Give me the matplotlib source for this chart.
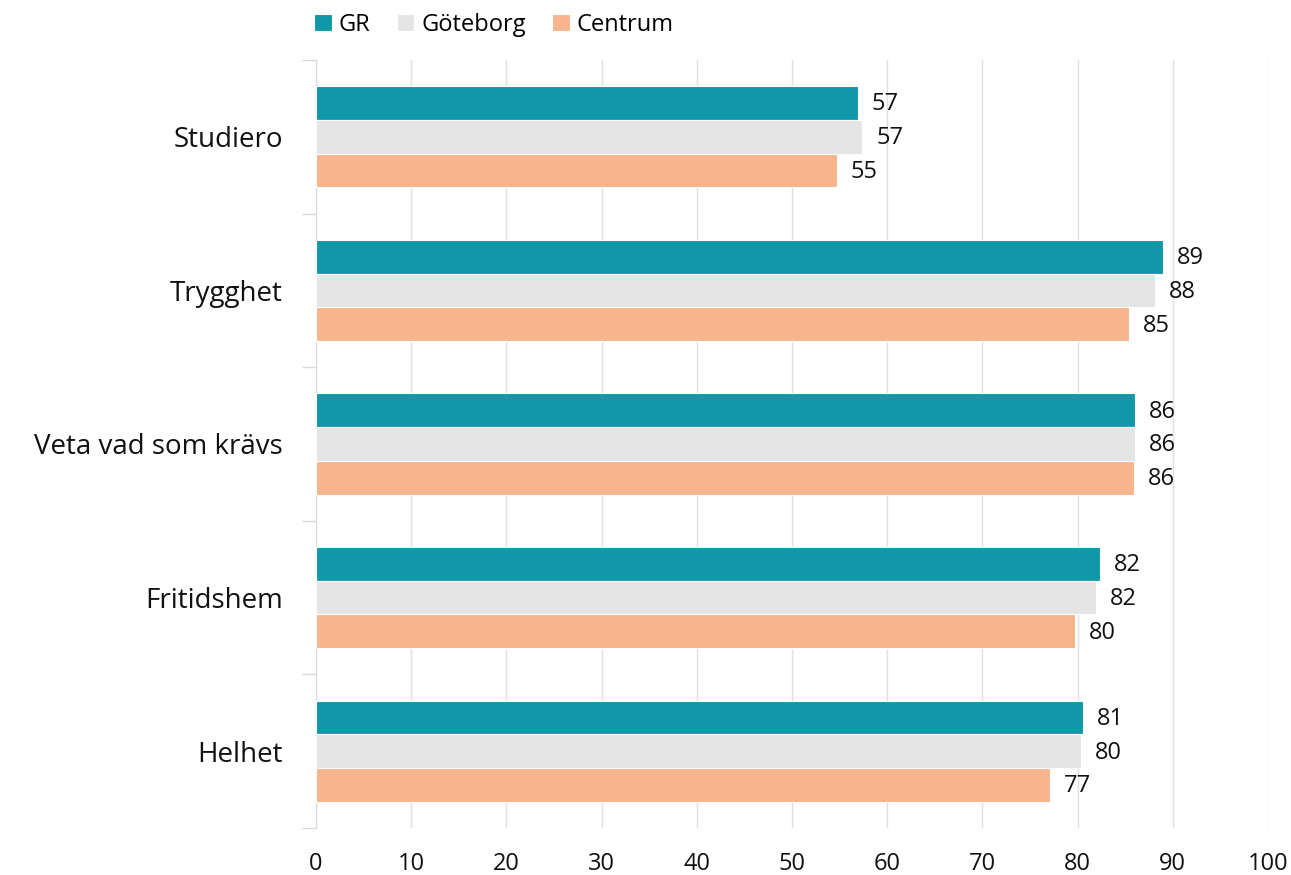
import numpy as np
import matplotlib.pyplot as plt

plt.rcParams['font.family'] = ['Open Sans', 'DejaVu Sans']

kategorier = ["Studiero", "Trygghet", "Veta vad som krävs", "Fritidshem", "Helhet"]
serier = ["GR", "Göteborg", "Centrum"]
gr = [56.9, 89.0, 86.0, 82.4, 80.6]
goteborg = [57.4, 88.1, 86.0, 81.9, 80.4]
centrum = [54.7, 85.4, 85.9, 79.7, 77.1]
xticks = [0, 10, 20, 30, 40, 50, 60, 70, 80, 90, 100]

farger = ["#1097A8", "#E5E5E5", "#F8B48C"]

fig = plt.figure(figsize=(12.91, 8.75), dpi=100)
ax = fig.add_axes([316/1291, 1 - 828/875, (1268 - 316)/1291, (828 - 60)/875])

y = np.arange(len(kategorier))
h = 0.22
for i, (namn, varden) in enumerate(zip(serier, [gr, goteborg, centrum])):
    pos = y + (i - 1) * h
    bars = ax.barh(pos, varden, height=h, color=farger[i], label=namn,
                   edgecolor="white", linewidth=0.8, zorder=3)
    for b, v in zip(bars, varden):
        ax.annotate(f"{v:.0f}", (b.get_width(), b.get_y() + b.get_height() / 2),
                    xytext=(10, -1), textcoords="offset points",
                    ha="left", va="center", fontsize=17, color="#111111")

ax.set_xlim(0, 100)
ax.set_ylim(len(kategorier) - 0.5, -0.5)
ax.set_xticks(xticks)
ax.tick_params(axis="x", length=0, labelsize=17, pad=17, colors="#111111")
ax.set_yticks(y)
ax.set_yticklabels(kategorier)
ax.tick_params(axis="y", which="major", length=0, labelsize=20, pad=24, colors="#111111")
ax.set_yticks(np.arange(len(kategorier) + 1) - 0.5, minor=True)
ax.tick_params(axis="y", which="minor", length=10, color="#D9D9D9", width=1)

ax.grid(axis="x", color="#E0E0E0", linewidth=1, zorder=0)
for s in ["top", "right", "bottom"]:
    ax.spines[s].set_visible(False)
ax.spines["left"].set_color("#D9D9D9")

ax.legend(loc="lower left", bbox_to_anchor=(-0.012, 1.018), ncol=3, frameon=False,
          fontsize=17, handlelength=0.75, handleheight=0.75, handletextpad=0.3,
          columnspacing=1.1, borderaxespad=0)

fig.savefig("out.png", dpi=100)
